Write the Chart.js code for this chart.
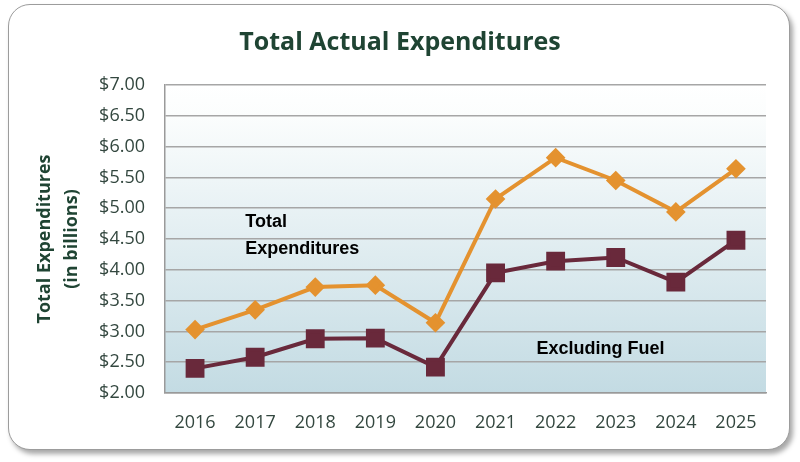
<!DOCTYPE html>
<html>
<head>
<meta charset="utf-8">
<script src="https://cdn.jsdelivr.net/npm/chart.js@4"></script>
<style>
  body { margin: 0; background: #fff; }
  .frame {
    position: absolute; left: 8px; top: 4px; width: 780px; height: 444px;
    border: 1.5px solid #9c9c9c; border-radius: 22px; background: #fff;
    box-shadow: 3px 4px 5px rgba(0,0,0,0.35);
  }
  #chart { position: absolute; left: 0; top: 0; }
</style>
</head>
<body>
<div class="frame"></div>
<canvas id="chart" width="800" height="462"></canvas>
<script>
// datos (miles de millones)
const years = ['2016', '2017', '2018', '2019', '2020', '2021', '2022', '2023', '2024', '2025'];
const totalExp = [3.03, 3.35, 3.72, 3.75, 3.14, 5.15, 5.82, 5.45, 4.94, 5.64];
const exclFuel = [2.40, 2.58, 2.88, 2.89, 2.42, 3.95, 4.14, 4.20, 3.80, 4.48];
const yTicks = [2, 2.5, 3, 3.5, 4, 4.5, 5, 5.5, 6, 6.5, 7];

const tickColor = '#33473f';

// fondo degradado del área del gráfico
const plotBackground = {
    id: 'plotBackground',
    beforeDraw(chart) {
        const { ctx, chartArea: a } = chart;
        const g = ctx.createLinearGradient(0, a.top, 0, a.bottom);
        g.addColorStop(0, '#ffffff');
        g.addColorStop(0.1, '#fbfdfd');
        g.addColorStop(1, '#c3dbe3');
        ctx.save();
        ctx.fillStyle = g;
        ctx.fillRect(a.left, a.top, a.right - a.left, a.bottom - a.top);
        ctx.restore();
    }
};

// etiquetas de las series dentro del gráfico
const seriesNotes = {
    id: 'seriesNotes',
    afterDatasetsDraw(chart) {
        const { ctx, scales: { x, y } } = chart;
        const notes = [
            { text: 'Total', i: 0.835, v: 4.70 },
            { text: 'Expenditures', i: 0.835, v: 4.26 },
            { text: 'Excluding Fuel', i: 5.68, v: 2.63 }
        ];
        ctx.save();
        ctx.font = 'bold 18px "Liberation Sans", Arial, sans-serif';
        ctx.fillStyle = '#000';
        ctx.textBaseline = 'alphabetic';
        ctx.textAlign = 'left';
        notes.forEach(n => {
            const px = x.getPixelForValue(0) + n.i * (x.getPixelForValue(1) - x.getPixelForValue(0));
            ctx.fillText(n.text, px, y.getPixelForValue(n.v));
        });
        ctx.restore();
    }
};

new Chart(document.getElementById('chart'), {
    type: 'line',
    data: {
        labels: years,
        datasets: [{
            label: 'Total Expenditures',
            data: totalExp,
            borderColor: '#e4922f',
            backgroundColor: '#e4922f',
            pointBorderColor: '#e4922f',
            borderWidth: 4,
            pointStyle: 'rectRot',
            pointRadius: 7,
            tension: 0
        }, {
            label: 'Excluding Fuel',
            data: exclFuel,
            borderColor: '#69293b',
            backgroundColor: '#69293b',
            pointBorderColor: '#69293b',
            borderWidth: 4,
            pointStyle: 'rect',
            pointRadius: 10.5,
            tension: 0
        }]
    },
    options: {
        responsive: false,
        animation: false,
        devicePixelRatio: 1,
        layout: { padding: 0 },
        plugins: {
            legend: { display: false },
            tooltip: { enabled: false },
            title: {
                display: true,
                text: 'Total Actual Expenditures',
                color: '#1f4433',
                font: { family: '"Open Sans", sans-serif', size: 25, weight: 'bold', lineHeight: 1.2 },
                padding: { top: 28, bottom: 27 }
            }
        },
        scales: {
            x: {
                offset: true,
                grid: { display: false },
                border: { color: '#9a9a9a', width: 1.5 },
                ticks: {
                    color: tickColor,
                    font: { family: '"Open Sans", sans-serif', size: 18 },
                    padding: 11
                },
                afterFit: s => { s.height = 69; }
            },
            y: {
                min: 2,
                max: 7,
                afterBuildTicks: s => { s.ticks = yTicks.map(v => ({ value: v })); },
                grid: { color: '#a6a6a6', lineWidth: 1.5, drawTicks: false },
                border: { color: '#9a9a9a', width: 1.5 },
                ticks: {
                    color: tickColor,
                    font: { family: '"Open Sans", sans-serif', size: 18 },
                    padding: 20,
                    callback: v => '$' + Number(v).toFixed(2)
                },
                title: {
                    display: true,
                    text: ['Total Expenditures', '(in billions)'],
                    color: '#1f4433',
                    font: { family: '"Open Sans", sans-serif', size: 18, weight: 'bold', lineHeight: 1.5 },
                    padding: { top: 31.5 }
                },
                afterFit: s => { s.width = 165; }
            },
            // margen derecho vacío para centrar el título en el marco
            yRight: {
                position: 'right',
                display: true,
                grid: { display: false },
                border: { display: false },
                ticks: { display: false },
                afterFit: s => { s.width = 34; }
            }
        }
    },
    plugins: [plotBackground, seriesNotes]
});
</script>
</body>
</html>
